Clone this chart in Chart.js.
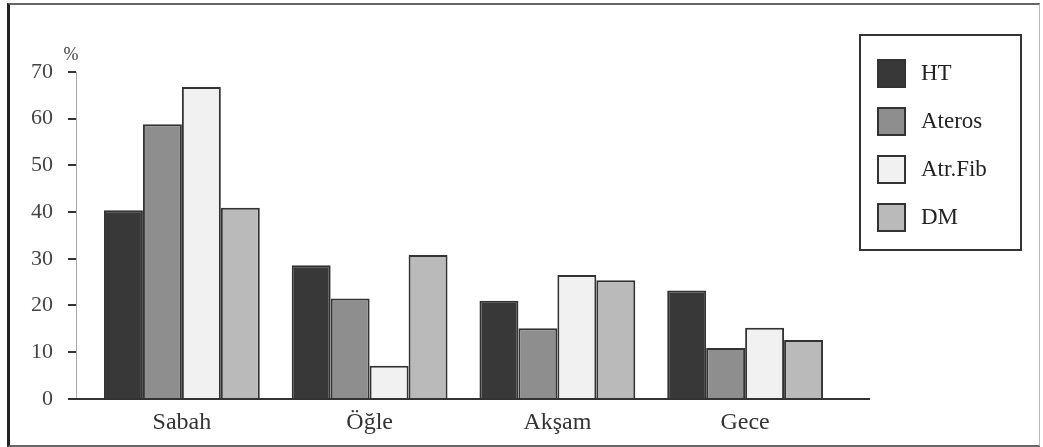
<!DOCTYPE html>
<html>
<head>
<meta charset="utf-8">
<script src="https://cdn.jsdelivr.net/npm/chart.js@4/dist/chart.umd.min.js"></script>
<style>
  html, body { margin:0; padding:0; background:#fff; }
  #wrap { position:relative; width:1043px; height:447px; }
  #frame {
    position:absolute; left:7px; top:3px; width:1029px; height:440px;
    border:2px solid #666; border-left:3px solid #222; border-right:1px solid #bbb;
    pointer-events:none;
  }
</style>
</head>
<body>
<div id="wrap">
  <canvas id="chart" width="1043" height="447"></canvas>
  <div id="frame"></div>
</div>
<script>
// ---------------- ข้อมูล ----------------
const categories = ['Sabah', 'Öğle', 'Akşam', 'Gece'];
const seriesNames = ['HT', 'Ateros', 'Atr.Fib', 'DM'];
const htValues     = [40.4, 28.6, 21.0, 23.2];
const aterosValues = [58.8, 21.5, 15.1, 10.9];
const atrFibValues = [66.8, 7.1, 26.5, 15.2];
const dmValues     = [40.9, 30.8, 25.4, 12.6];
const yTicks = [0, 10, 20, 30, 40, 50, 60, 70];

const fills = ['#383838', '#8e8e8e', '#f1f1f1', '#bababa'];
const serif = "'Liberation Serif', 'DejaVu Serif', serif";

// ---------------- แกน + ป้ายกำกับ ----------------
const axisPlugin = {
  id: 'axisPlugin',
  afterDatasetsDraw(chart){
    const ctx = chart.ctx;
    const area = chart.chartArea;
    const y = chart.scales.y;
    const axX = area.left - 12;
    ctx.save();
    // y axis line
    ctx.strokeStyle = '#aaa';
    ctx.lineWidth = 1;
    ctx.beginPath();
    ctx.moveTo(axX + 0.5, y.getPixelForValue(70));
    ctx.lineTo(axX + 0.5, y.getPixelForValue(0));
    ctx.stroke();
    // tick marks
    ctx.strokeStyle = '#333';
    ctx.lineWidth = 2;
    yTicks.forEach(v => {
      const py = Math.round(y.getPixelForValue(v));
      ctx.beginPath();
      ctx.moveTo(axX - 8, py);
      ctx.lineTo(axX, py);
      ctx.stroke();
    });
    // x axis line
    const by = Math.round(y.getPixelForValue(0));
    ctx.beginPath();
    ctx.moveTo(axX - 8, by);
    ctx.lineTo(area.right + 31, by);
    ctx.stroke();
    // %
    ctx.fillStyle = '#444';
    ctx.font = '18px ' + serif;
    ctx.textAlign = 'center';
    ctx.textBaseline = 'middle';
    ctx.fillText('%', axX - 5, y.getPixelForValue(70) - 17);
    ctx.restore();
  }
};

// ---------------- Legend ----------------
const boxLegend = {
  id: 'boxLegend',
  afterDraw(chart){
    const ctx = chart.ctx;
    ctx.save();
    ctx.strokeStyle = '#333';
    ctx.lineWidth = 2;
    ctx.strokeRect(860, 35, 161, 215);
    chart.data.datasets.forEach((ds, i) => {
      const top = 60 + i * 48;
      ctx.fillStyle = ds.backgroundColor;
      ctx.fillRect(878, top, 27, 27);
      ctx.strokeStyle = '#333';
      ctx.strokeRect(878, top, 27, 27);
      ctx.fillStyle = '#222';
      ctx.font = '23px ' + serif;
      ctx.textAlign = 'left';
      ctx.textBaseline = 'middle';
      ctx.fillText(ds.label, 921, top + 14);
    });
    ctx.restore();
  }
};

// ---------------- แสดงกราฟ ----------------
const allValues = [htValues, aterosValues, atrFibValues, dmValues];
const ctx = document.getElementById('chart').getContext('2d');
new Chart(ctx, {
  type: 'bar',
  data: {
    labels: categories,
    datasets: allValues.map((vals, i) => ({
      label: seriesNames[i],
      data: vals,
      backgroundColor: fills[i],
      borderColor: '#333',
      borderWidth: 2,
      borderSkipped: 'bottom',
      categoryPercentage: 0.83,
      barPercentage: 1.0
    }))
  },
  options: {
    responsive: false,
    animation: false,
    layout: { padding: { top: 72, right: 204, left: 0, bottom: 0 } },
    plugins: { legend: { display: false }, tooltip: { enabled: false } },
    scales: {
      x: {
        grid: { display: false, drawTicks: false },
        border: { display: false },
        ticks: { color: '#333', font: { family: serif, size: 24 }, padding: 10 },
        afterFit: s => { s.height = 47; }
      },
      y: {
        min: 0, max: 70,
        grid: { display: false, drawTicks: false },
        border: { display: false },
        ticks: { stepSize: 10, color: '#444', font: { family: serif, size: 22 }, padding: 35 },
        afterFit: s => { s.width = 88; }
      }
    }
  },
  plugins: [axisPlugin, boxLegend]
});
</script>
</body>
</html>
